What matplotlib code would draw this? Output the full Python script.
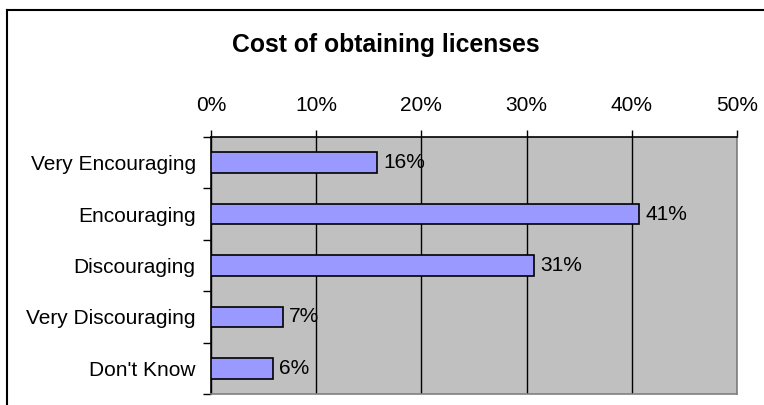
import matplotlib
matplotlib.use("Agg")
import matplotlib.pyplot as plt
from matplotlib.lines import Line2D

categories = ["Very Encouraging", "Encouraging", "Discouraging", "Very Discouraging", "Don't Know"]
values = [15.8, 40.7, 30.7, 6.8, 5.9]
value_labels = ["16%", "41%", "31%", "7%", "6%"]
xticks = [0, 10, 20, 30, 40, 50]
xtick_labels = ["0%", "10%", "20%", "30%", "40%", "50%"]
title = "Cost of obtaining licenses"

plt.rcParams['font.family'] = ['Liberation Sans', 'DejaVu Sans']

fig = plt.figure(figsize=(7.64, 4.05), dpi=100)
fig.patch.set_facecolor('white')
ax = fig.add_axes([211/764, 1-394/405, (737-211)/764, (394-137)/405])
ax.set_facecolor('#C0C0C0')

ypos = list(range(len(categories)))
ax.barh(ypos, values, height=0.4, color='#9999FF', edgecolor='black', linewidth=1.2, zorder=3)
for y, v, lab in zip(ypos, values, value_labels):
    ax.annotate(lab, (v, y), xytext=(4.5, 0), textcoords='offset points',
                va='center', ha='left', fontsize=15, color='black', zorder=4)

ax.set_xlim(0, 50)
ax.set_ylim(len(categories)-0.5, -0.5)
ax.set_xticks(xticks)
ax.set_xticklabels(xtick_labels, fontsize=15)
ax.xaxis.tick_top()
ax.tick_params(axis='x', direction='out', length=5, width=1, pad=10.5, colors='black')
ax.grid(axis='x', color='black', linewidth=1, zorder=1)

ax.set_yticks(ypos)
ax.set_yticklabels(categories, fontsize=15)
ax.tick_params(axis='y', which='major', length=0, pad=11)
ax.set_yticks([i + 0.5 for i in range(-1, len(categories))], minor=True)
ax.tick_params(axis='y', which='minor', direction='out', length=6, width=1, colors='black')

ax.spines['top'].set_color('black')
ax.spines['left'].set_color('black')
ax.spines['right'].set_color('#808080')
ax.spines['bottom'].set_color('#808080')
for s in ax.spines.values():
    s.set_linewidth(1.2)

fig.text(386/764, 1-45/405, title, ha='center', va='center', fontsize=17.8, fontweight='bold')

# chart border (left and top visible)
fig.add_artist(Line2D([6.5/764, 6.5/764], [0, 1-9.5/405], transform=fig.transFigure, color='black', linewidth=1.5))
fig.add_artist(Line2D([6.5/764, 1], [1-9.5/405, 1-9.5/405], transform=fig.transFigure, color='black', linewidth=1.5))

fig.savefig("out.png", dpi=100)
